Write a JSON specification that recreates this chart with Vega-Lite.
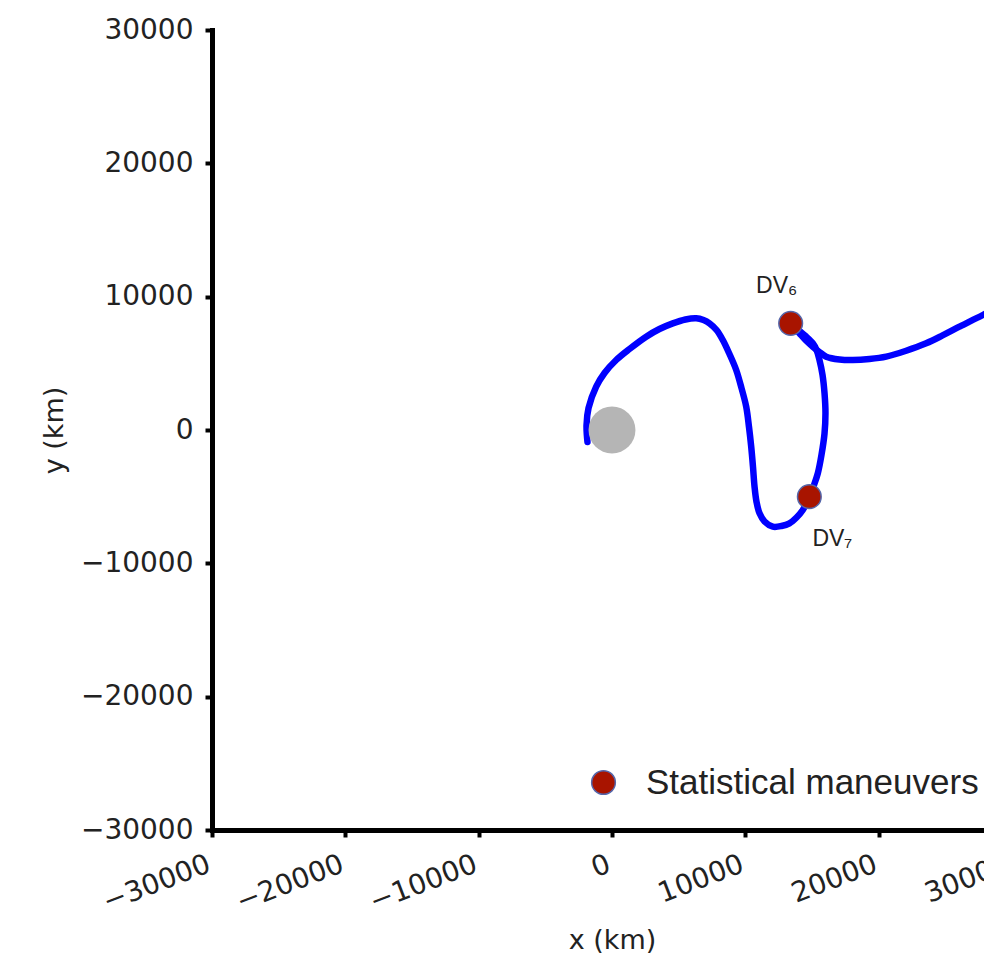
{
  "$schema": "https://vega.github.io/schema/vega-lite/v6.json",
  "autosize": "none",
  "width": 800,
  "height": 800,
  "padding": {"left": 212, "top": 30, "right": -28, "bottom": 124},
  "background": "white",
  "config": {
    "view": {"stroke": null},
    "axis": {
      "labelFont": "DejaVu Sans",
      "labelFontSize": 28,
      "labelColor": "#222222",
      "titleFont": "DejaVu Sans",
      "titleFontSize": 27,
      "titleFontWeight": "normal",
      "titleColor": "#222222",
      "domainColor": "black",
      "domainWidth": 5,
      "domainCap": "square",
      "tickColor": "black",
      "tickWidth": 4,
      "tickSize": 7,
      "grid": false,
      "format": "d"
    },
    "legend": {
      "labelFont": "Liberation Sans",
      "labelFontSize": 35,
      "labelColor": "#222222",
      "labelLimit": 0,
      "symbolType": "circle",
      "symbolSize": 560,
      "symbolStrokeColor": "#5566aa",
      "symbolStrokeWidth": 1.5,
      "padding": 0
    }
  },
  "datasets": {
    "trajectory": [
      {"seg": "a", "i": 0, "x": -1840, "y": -900},
      {"seg": "a", "i": 1, "x": -1910, "y": 375},
      {"seg": "a", "i": 2, "x": -1760, "y": 1650},
      {"seg": "a", "i": 3, "x": -1185, "y": 3250},
      {"seg": "a", "i": 4, "x": -560, "y": 4275},
      {"seg": "a", "i": 5, "x": 315, "y": 5250},
      {"seg": "a", "i": 6, "x": 1310, "y": 6075},
      {"seg": "a", "i": 7, "x": 2565, "y": 7000},
      {"seg": "a", "i": 8, "x": 3560, "y": 7575},
      {"seg": "a", "i": 9, "x": 4560, "y": 8000},
      {"seg": "a", "i": 10, "x": 5510, "y": 8290},
      {"seg": "a", "i": 11, "x": 6315, "y": 8380},
      {"seg": "a", "i": 12, "x": 6860, "y": 8250},
      {"seg": "a", "i": 13, "x": 7310, "y": 8000},
      {"seg": "a", "i": 14, "x": 7840, "y": 7500},
      {"seg": "a", "i": 15, "x": 8310, "y": 6750},
      {"seg": "a", "i": 16, "x": 8810, "y": 5700},
      {"seg": "a", "i": 17, "x": 9315, "y": 4500},
      {"seg": "a", "i": 18, "x": 9710, "y": 3150},
      {"seg": "a", "i": 19, "x": 10065, "y": 1750},
      {"seg": "a", "i": 20, "x": 10275, "y": 225},
      {"seg": "a", "i": 21, "x": 10440, "y": -1250},
      {"seg": "a", "i": 22, "x": 10575, "y": -2775},
      {"seg": "a", "i": 23, "x": 10690, "y": -4250},
      {"seg": "a", "i": 24, "x": 10840, "y": -5400},
      {"seg": "a", "i": 25, "x": 11065, "y": -6250},
      {"seg": "a", "i": 26, "x": 11440, "y": -6860},
      {"seg": "a", "i": 27, "x": 12060, "y": -7250},
      {"seg": "a", "i": 28, "x": 12710, "y": -7200},
      {"seg": "a", "i": 29, "x": 13310, "y": -7000},
      {"seg": "a", "i": 30, "x": 13840, "y": -6560},
      {"seg": "a", "i": 31, "x": 14310, "y": -6000},
      {"seg": "a", "i": 32, "x": 14800, "y": -5000},
      {"seg": "a", "i": 33, "x": 15150, "y": -4125},
      {"seg": "a", "i": 34, "x": 15435, "y": -3250},
      {"seg": "a", "i": 35, "x": 15710, "y": -1875},
      {"seg": "a", "i": 36, "x": 15940, "y": -250},
      {"seg": "a", "i": 37, "x": 16010, "y": 1275},
      {"seg": "a", "i": 38, "x": 15940, "y": 2750},
      {"seg": "a", "i": 39, "x": 15790, "y": 4125},
      {"seg": "a", "i": 40, "x": 15560, "y": 5250},
      {"seg": "a", "i": 41, "x": 15340, "y": 6000},
      {"seg": "a", "i": 42, "x": 15060, "y": 6500},
      {"seg": "a", "i": 43, "x": 14510, "y": 7050},
      {"seg": "a", "i": 44, "x": 14060, "y": 7425},
      {"seg": "a", "i": 45, "x": 13400, "y": 8000},
      {"seg": "b", "i": 46, "x": 13400, "y": 8000},
      {"seg": "b", "i": 47, "x": 14060, "y": 7250},
      {"seg": "b", "i": 48, "x": 14550, "y": 6710},
      {"seg": "b", "i": 49, "x": 15060, "y": 6250},
      {"seg": "b", "i": 50, "x": 15560, "y": 5850},
      {"seg": "b", "i": 51, "x": 16065, "y": 5500},
      {"seg": "b", "i": 52, "x": 17060, "y": 5290},
      {"seg": "b", "i": 53, "x": 18060, "y": 5250},
      {"seg": "b", "i": 54, "x": 19310, "y": 5325},
      {"seg": "b", "i": 55, "x": 20565, "y": 5500},
      {"seg": "b", "i": 56, "x": 22010, "y": 5925},
      {"seg": "b", "i": 57, "x": 23565, "y": 6500},
      {"seg": "b", "i": 58, "x": 24790, "y": 7090},
      {"seg": "b", "i": 59, "x": 26060, "y": 7750},
      {"seg": "b", "i": 60, "x": 26960, "y": 8210},
      {"seg": "b", "i": 61, "x": 27810, "y": 8625},
      {"seg": "b", "i": 62, "x": 29000, "y": 9300}
    ],
    "body": [{"x": 0, "y": 0}],
    "maneuvers": [
      {"name": "DV6", "label": "DV₆", "x": 13400, "y": 8000},
      {"name": "DV7", "label": "DV₇", "x": 14800, "y": -5000}
    ]
  },
  "encoding": {
    "x": {
      "field": "x",
      "type": "quantitative",
      "scale": {"domain": [-30000, 30000], "nice": false, "zero": false},
      "axis": {
        "title": "x (km)",
        "values": [-30000, -20000, -10000, 0, 10000, 20000, 30000],
        "labelAngle": -21,
        "labelAlign": "right",
        "labelBaseline": "top",
        "labelPadding": 13,
        "labelOffset": -8,
        "labelFlush": false,
        "labelOverlap": false,
        "labelBound": false,
        "titleX": 400,
        "titleY": 110,
        "titleAlign": "center",
        "titleBaseline": "middle"
      }
    },
    "y": {
      "field": "y",
      "type": "quantitative",
      "scale": {"domain": [-30000, 30000], "nice": false, "zero": false},
      "axis": {
        "title": "y (km)",
        "values": [-30000, -20000, -10000, 0, 10000, 20000, 30000],
        "labelPadding": 12,
        "labelFlush": false,
        "labelOverlap": false,
        "titleX": -158,
        "titleY": 400,
        "titleAngle": -90,
        "titleAlign": "center",
        "titleBaseline": "middle"
      }
    }
  },
  "layer": [
    {
      "data": {"name": "trajectory"},
      "mark": {"type": "line", "color": "#0000ff", "strokeWidth": 6.5, "strokeCap": "round", "strokeJoin": "round", "interpolate": "catmull-rom", "clip": true},
      "encoding": {
        "detail": {"field": "seg"},
        "order": {"field": "i", "type": "quantitative"}
      }
    },
    {
      "data": {"name": "body"},
      "mark": {"type": "point", "filled": true, "shape": "circle", "color": "#b5b5b5", "size": 2200, "opacity": 1}
    },
    {
      "data": {"name": "maneuvers"},
      "mark": {"type": "point", "filled": true, "shape": "circle", "size": 560, "stroke": "#5566aa", "strokeWidth": 1.5, "opacity": 1},
      "encoding": {
        "fill": {
          "datum": "Statistical maneuvers",
          "scale": {"range": ["#a81400"]},
          "legend": {"title": null, "orient": "none", "legendX": 374, "legendY": 735, "labelOffset": 25}
        }
      }
    },
    {
      "data": {"name": "maneuvers"},
      "transform": [{"filter": "datum.name === 'DV6'"}],
      "mark": {"type": "text", "font": "Liberation Sans", "fontSize": 23, "color": "#222222", "dx": -14, "dy": -37},
      "encoding": {"text": {"field": "label"}}
    },
    {
      "data": {"name": "maneuvers"},
      "transform": [{"filter": "datum.name === 'DV7'"}],
      "mark": {"type": "text", "font": "Liberation Sans", "fontSize": 23, "color": "#222222", "dx": 23, "dy": 42},
      "encoding": {"text": {"field": "label"}}
    }
  ]
}
